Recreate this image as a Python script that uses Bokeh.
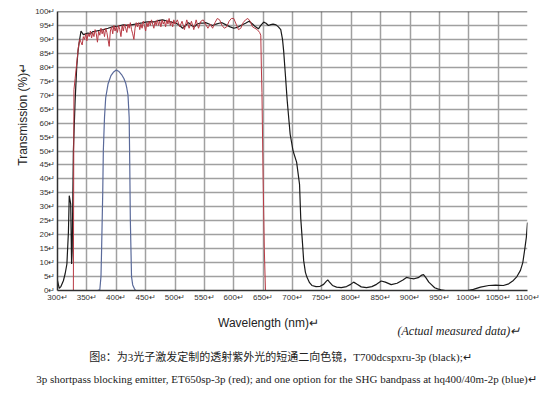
import math
from bokeh.plotting import figure
from bokeh.layouts import column, row
from bokeh.models import Range1d, FixedTicker, Span
from bokeh.core.properties import value
from bokeh.embed import file_html
from bokeh.resources import INLINE

# ---- data ----
black_wl = [300, 303, 306, 310, 313, 316, 318.6, 320, 322.5, 324, 325, 327, 330, 332.7, 335, 337, 340,
            344, 348, 352, 356, 360, 364, 370, 378, 386, 395, 404, 412, 420, 428, 436, 444, 450, 457,
            464, 471, 479, 486, 494, 502, 508, 513, 518, 523, 528, 533, 538, 542, 547, 552, 558, 564,
            570, 575, 580, 587, 594, 600, 606, 612, 620, 626, 632, 637, 642, 646, 651, 655, 659, 663,
            667, 672, 676, 680, 683, 685, 688, 691, 696, 701, 707, 712, 714, 717, 719, 722, 724.5, 729,
            733, 740, 747, 753, 757, 760, 763, 768, 775, 783, 792, 799, 804, 810, 817, 826, 835, 843,
            851, 858, 868, 878, 888, 894, 900, 907, 914, 919, 923, 927, 932, 936, 942, 947, 953, 960,
            998, 1008, 1020, 1034, 1046, 1059, 1068, 1076, 1082, 1088, 1092, 1095, 1098, 1100]
black_t = [3.5, 0.8, 1.5, 3.5, 6, 9.5, 21, 34, 31, 9.5, 14, 50, 68, 80, 86, 89, 93,
           91.7, 92, 92.3, 92, 92.8, 92.9, 93.2, 93.5, 94, 94.6, 94.8, 95.2, 95, 95.3, 95.6, 95.9, 96.2, 96.4,
           96.3, 96.7, 97, 96.6, 96.2, 95.8, 95, 94, 95, 96, 95, 94.5, 95.5, 95.8, 95.8, 96, 95.5, 95,
           95.5, 95.8, 96, 95.2, 94.5, 94, 94.3, 95, 95.8, 96.5, 95.5, 94.5, 93.8, 95, 96.2, 95.8, 95, 95.3,
           95.5, 95.2, 94.5, 93.5, 90, 85.7, 77, 68, 56, 50, 46, 38, 26, 17, 10.7, 6.5, 4.8, 2.8,
           1.8, 1.4, 1.5, 2.2, 3.2, 3.8, 3.0, 1.8, 1.2, 1.0, 1.4, 2.2, 3.0, 2.2, 1.3, 1.0, 1.4, 2.2,
           3.4, 3.0, 2.1, 2.6, 3.8, 4.7, 4.4, 4.2, 4.6, 5.4, 5.7, 4.6, 3.0, 2.2, 1.0, 0.6, 0.2, 0.0,
           0.0, 0.4, 1.2, 1.8, 1.9, 1.8, 2.4, 3.6, 5.0, 7.2, 10, 14.3, 19, 24.4]

red_wl = [300, 327, 328, 330, 332, 334, 336, 338, 340, 342, 344, 346, 348, 350, 352, 354, 356, 358,
          360, 362, 364, 366, 368, 370, 372, 374, 376, 378, 380, 382, 384, 386, 388, 390, 392, 394,
          396, 398, 400, 402, 404, 406, 408, 410, 412, 414, 416, 418, 420, 422, 424, 426, 428, 430,
          432, 434, 436, 438, 440, 442, 444, 446, 448, 450, 452, 454, 456, 458, 460, 462, 464, 466,
          468, 470, 472, 474, 476, 478, 480, 482, 484, 486, 488, 490, 492, 494, 496, 498, 500, 504,
          508, 512, 516, 520, 524, 528, 532, 536, 540, 544, 548, 552, 556, 560, 564, 568, 572, 576,
          580, 584, 588, 592, 596, 600, 604, 608, 612, 616, 620, 624, 628, 632, 636, 640, 644, 646,
          647, 648, 650, 652, 654]
red_t = [0, 0, 72, 76, 80, 84, 88, 90, 89, 88, 91, 90, 92, 89.5, 92, 91, 93, 90.5,
         92.5, 91, 93.5, 92, 89, 93, 91.5, 94, 92, 93.5, 91, 94, 92.5, 90, 87.5, 93, 94.5, 92,
         95, 93, 94.5, 92.5, 95, 93.5, 91, 95, 93, 95.5, 94, 92.5, 95.5, 94, 96, 93.5, 92, 90,
         94, 96, 94.5, 96, 93.5, 95.5, 94, 96.5, 95, 93, 96, 94.5, 96.5, 95, 97, 95.5, 94, 96.5,
         95, 97, 95, 96.5, 94.5, 97, 95.5, 96.5, 94.5, 97, 95.5, 97.5, 95, 96.5, 94.5, 97, 95.5, 97,
         94.5, 96.5, 93.5, 97, 94, 96.5, 93.5, 97, 94, 96.5, 97, 95.5, 94, 95.5, 94, 96, 97.5, 97,
         95, 94, 94.5, 96.5, 97.5, 97.5, 95.5, 93.5, 94, 96, 97, 97.5, 96.5, 94.5, 94, 93.5, 92.5, 91.5,
         80, 71, 40, 15, 0]

blue_wl = [368, 372, 374, 375, 377, 378, 380, 382, 386, 391, 395, 400, 404, 409, 413, 416, 418, 420,
           421, 422, 423, 424, 426, 428, 431, 433]
blue_t = [0, 0.2, 5, 14, 35, 50, 62, 69, 74, 77, 78.2, 79, 78.6, 77.4, 76, 74.4, 72.5, 70,
          66, 62, 45, 25, 5, 2, 0.6, 0]

x_ticks = list(range(300, 1101, 50))
y_ticks = list(range(0, 101, 5))
x_tick_labels = {t: f"{t}\u21b5" for t in x_ticks}
y_tick_labels = {t: f"{t}\u21b5" for t in y_ticks}

x_title = "Wavelength (nm)\u21b5"
y_title = "Transmission (%)\u21b5"
note = "(Actual measured data)\u21b5"
caption1 = "图8：为3光子激发定制的透射紫外光的短通二向色镜，T700dcspxru-3p (black);\u21b5"
caption2 = "3p shortpass blocking emitter, ET650sp-3p (red); and one option for the SHG bandpass at hq400/40m-2p (blue)\u21b5"


def blank(fig):
    fig.axis.visible = False
    fig.grid.visible = False
    fig.outline_line_color = None
    fig.min_border = 0
    return fig


# ---- main chart ----
p = figure(width=517, height=304, output_backend="svg", toolbar_location=None,
           x_range=Range1d(300, 1100), y_range=Range1d(0, 100),
           min_border_left=22, min_border_right=22, min_border_top=11, min_border_bottom=14)
p.outline_line_color = None

for ax, ticks, labels in ((p.xaxis, x_ticks, x_tick_labels), (p.yaxis, y_ticks, y_tick_labels)):
    ax.ticker = FixedTicker(ticks=ticks)
    ax.major_label_overrides = labels
    ax.major_tick_line_color = None
    ax.minor_tick_line_color = None
    ax.major_tick_in = 0
    ax.major_tick_out = 0
    ax.minor_tick_in = 0
    ax.minor_tick_out = 0
    ax.axis_line_color = "#303030"
    ax.axis_line_width = 1.5
    ax.major_label_text_font = "Liberation Sans"
    ax.major_label_text_font_size = "8px"
    ax.major_label_text_color = "#333333"
    ax.major_label_standoff = 2

p.xgrid.grid_line_color = "#a0a0a0"
p.ygrid.grid_line_color = "#a0a0a0"
p.xgrid.grid_line_width = 1.5
p.ygrid.grid_line_width = 1.5

p.add_layout(Span(location=100, dimension="width", line_color="#303030", line_width=1.5))

p.line(blue_wl, blue_t, line_color="#5a6a9a", line_width=1.2)
p.line(black_wl, black_t, line_color="#1a1a1a", line_width=1.2)
p.line(red_wl, red_t, line_color="#b83a44", line_width=1.0)

sans = value("Liberation Sans")
serif = value("'Liberation Serif', 'Noto Sans CJK SC'")

# ---- y-axis title strip (coordinates = page pixels) ----
yf = blank(figure(width=32, height=304, output_backend="svg", toolbar_location=None,
                  x_range=Range1d(0, 32), y_range=Range1d(304, 0)))
yf.text(x=[22], y=[112], text=[y_title], angle=math.pi / 2, text_align="center",
        text_baseline="middle", text_font=sans, text_font_size="12px", text_color="#222222")

# ---- caption strip (coordinates = page pixels) ----
cf = blank(figure(width=549, height=86, output_backend="svg", toolbar_location=None,
                  x_range=Range1d(0, 549), y_range=Range1d(390, 304)))
cf.text(x=[268], y=[322], text=[x_title], text_align="center", text_baseline="middle",
        text_font=sans, text_font_size="12px", text_color="#222222")
cf.text(x=[397], y=[330], text=[note], text_align="left", text_baseline="middle",
        text_font=value("Liberation Serif"), text_font_style="italic",
        text_font_size="12px", text_color="#222222")
cf.text(x=[280], y=[356], text=[caption1], text_align="center", text_baseline="middle",
        text_font=serif, text_font_size="11px", text_color="#222222")
cf.text(x=[286], y=[378], text=[caption2], text_align="center", text_baseline="middle",
        text_font=serif, text_font_size="11px", text_color="#222222")

layout = column(row(yf, p, spacing=0), cf, spacing=0)
open("out.html", "w").write(file_html(layout, INLINE))
